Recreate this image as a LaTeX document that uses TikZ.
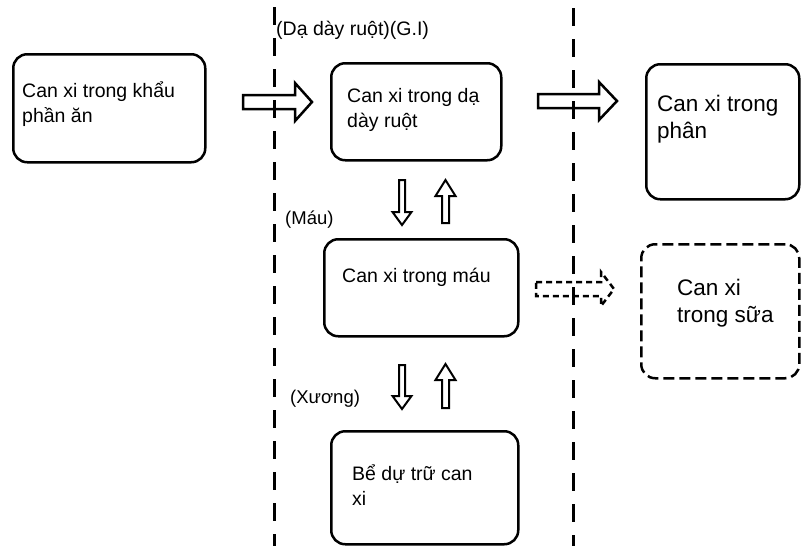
\documentclass[tikz,border=0pt]{standalone}
\usepackage{fontspec}
\setmainfont{Liberation Sans}
\newcommand\blockarrow[7][]{%
  \draw[barrow,rotate=#3,#1] (#2) ++(0,#5) -- ++(#4-#7,0) -- ++(0,#6-#5) -- ++(#7,-#6) -- ++(-#7,-#6) -- ++(0,#6-#5) -- ++(-#4+#7,0) -- cycle;}
\tikzset{
  box/.style={draw, line width=2.5pt, rounded corners=14pt, inner sep=0pt, anchor=north west},
  dbox/.style={box, dash pattern=on 11pt off 5pt},
  txt/.style={anchor=base west, inner sep=0pt, align=left, font=\fontsize{19.5}{25}\selectfont},
  btxt/.style={txt, font=\fontsize{22.5}{26.5}\selectfont},
  lbl/.style={anchor=base west, inner sep=0pt, font=\fontsize{18.5}{22}\selectfont},
  barrow/.style={draw, line width=2.5pt, fill=white, line join=miter},
  divider/.style={line width=3pt, dash pattern=on 18pt off 13pt},
}
\begin{document}
\begin{tikzpicture}[x=1pt,y=1pt]
\useasboundingbox (0,0) rectangle (801,-546);
% boxes
\node[box, minimum width=192pt, minimum height=108pt] (A) at (12,-53) {};
\node[box, minimum width=170pt, minimum height=97pt] (B) at (330,-62) {};
\node[box, minimum width=153pt, minimum height=135pt] (C) at (645,-63) {};
\node[box, minimum width=194pt, minimum height=97pt] (D) at (323,-238) {};
\node[dbox, minimum width=158pt, minimum height=134pt] (E) at (640,-243) {};
\node[box, minimum width=187pt, minimum height=113pt] (F) at (330,-430) {};
% texts (base anchor = last line)
\node[txt] (tA) at (22,-122) {Can xi trong khẩu\\phần ăn};
\node[txt] (tB) at (347,-127) {Can xi trong dạ\\dày ruột};
\node[btxt] (tC) at (657,-138) {Can xi trong\\phân};
\node[txt] (tD) at (342,-282) {Can xi trong máu};
\node[btxt] (tE) at (677,-322) {Can xi\\trong sữa};
\node[txt] (tF) at (352,-505) {Bể dự trữ can\\xi};
% labels
\node[lbl, font=\fontsize{19.5}{22}\selectfont] (lGI) at (276,-35) {(Dạ dày ruột)(G.I)};
\node[lbl] (lMau) at (285,-224) {(Máu)};
\node[lbl] (lXuong) at (290,-403) {(Xương)};
% block arrows
\coordinate (a1) at (243,-102);
\coordinate (a2) at (538,-101);
\coordinate (a3) at (536,-289);
\coordinate (a4) at (402,-180);
\coordinate (a5) at (445.5,-223);
\coordinate (a6) at (402,-365);
\coordinate (a7) at (445.5,-408);
\blockarrow{a1}{0}{69}{7}{19}{17}
\blockarrow{a2}{0}{79}{7}{19}{18}
\blockarrow[dash pattern=on 6pt off 4pt]{a3}{0}{78}{7}{17}{13}
\blockarrow[line width=2pt]{a4}{-90}{45}{3}{9.5}{13}
\blockarrow[line width=2pt]{a5}{90}{43}{3.5}{10}{16}
\blockarrow[line width=2pt]{a6}{-90}{44}{3}{9.5}{13}
\blockarrow[line width=2pt]{a7}{90}{44}{3.5}{10}{16}
% dividers
\coordinate (l1t) at (274,-7);
\coordinate (l1b) at (274,-546);
\coordinate (l2t) at (573,-8);
\coordinate (l2b) at (573,-546);
\draw[divider] (l1t) -- (l1b);
\draw[divider] (l2t) -- (l2b);
\end{tikzpicture}
\end{document}
